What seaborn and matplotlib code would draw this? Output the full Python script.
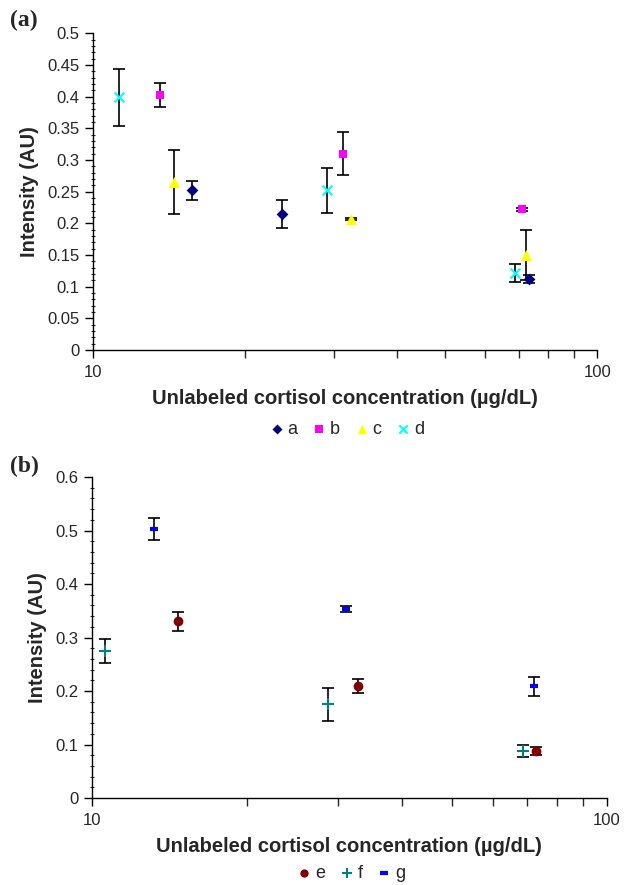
import numpy as np
import pandas as pd
import matplotlib
matplotlib.use("Agg")
import matplotlib.pyplot as plt
import seaborn as sns
from matplotlib.ticker import MultipleLocator, NullFormatter, FixedFormatter, FixedLocator

# painel (a)
a_x = [15.7, 23.7, 73.4]
a_y = [0.252, 0.214, 0.112]
a_err = [0.015, 0.022, 0.007]
b_x = [13.6, 31.3, 70.9]
b_y = [0.402, 0.310, 0.222]
b_err = [0.019, 0.034, 0.002]
c_x = [14.5, 32.5, 72.1]
c_y = [0.265, 0.207, 0.150]
c_err = [0.050, 0.002, 0.040]
d_x = [11.25, 29.1, 68.8]
d_y = [0.399, 0.252, 0.121]
d_err = [0.045, 0.035, 0.014]

# painel (b)
e_x = [14.7, 32.8, 73.0]
e_y = [0.330, 0.209, 0.088]
e_err = [0.018, 0.013, 0.0075]
f_x = [10.6, 28.7, 68.8]
f_y = [0.275, 0.175, 0.088]
f_err = [0.022, 0.031, 0.012]
g_x = [13.2, 31.2, 72.1]
g_y = [0.503, 0.353, 0.209]
g_err = [0.021, 0.006, 0.018]

sns.set_style("ticks")
plt.rcParams['font.family'] = ['Liberation Sans', 'DejaVu Sans']

fig = plt.figure(figsize=(6.24, 8.85), dpi=100)
ax1 = fig.add_axes([0.149, 0.6045, 0.808, 0.358])
ax2 = fig.add_axes([0.1474, 0.0983, 0.825, 0.3627])

series_a = [
    ("a", a_x, a_y, a_err, "D", "#000080", 6, 0),
    ("b", b_x, b_y, b_err, "s", "#ff00ff", 6, 0),
    ("c", c_x, c_y, c_err, "^", "#ffff00", 8, 0),
    ("d", d_x, d_y, d_err, "x", "#00ffff", 7, 1.5),
]
series_b = [
    ("e", e_x, e_y, e_err, "o", "#800000", 7, 0),
    ("f", f_x, f_y, f_err, "+", "#008080", 9, 1.5),
    ("g", g_x, g_y, g_err, "_", "#0000ff", 6, 3),
]


def desenha(ax, series, ymax, major, minor, leg_y):
    for nome, x, y, err, mk, cor, ms, lw in series:
        ax.errorbar(x, y, yerr=err, fmt="none", ecolor="black", elinewidth=1.2,
                    capsize=4, capthick=1.2, zorder=2)
        df = pd.DataFrame({"x": x, "y": y})
        if mk in ("x", "+", "_"):
            sns.scatterplot(data=df, x="x", y="y", ax=ax, marker=mk, color=cor,
                            s=ms ** 2, linewidth=lw, zorder=3, label=nome)
        else:
            sns.scatterplot(data=df, x="x", y="y", ax=ax, marker=mk, color=cor,
                            s=ms ** 2, edgecolor=cor, linewidth=0, zorder=3, label=nome)
    ax.set_xscale("log")
    ax.set_xlim(10, 100)
    ax.set_ylim(0, ymax)
    ax.yaxis.set_major_locator(MultipleLocator(major))
    ax.yaxis.set_minor_locator(MultipleLocator(minor))
    ax.yaxis.set_major_formatter(plt.FuncFormatter(lambda v, p: ("%g" % round(v, 3))))
    ax.xaxis.set_major_locator(FixedLocator([10, 100]))
    ax.xaxis.set_major_formatter(FixedFormatter(["10", "100"]))
    ax.xaxis.set_minor_locator(FixedLocator([20, 30, 40, 50, 60, 70, 80, 90]))
    ax.xaxis.set_minor_formatter(NullFormatter())
    ax.tick_params(axis="both", which="major", labelsize=12, length=6, width=1, color="black")
    ax.tick_params(axis="y", which="minor", length=3, width=0.8, direction="inout")
    ax.tick_params(axis="x", which="minor", length=6, width=1)
    ax.tick_params(axis="x", which="major", pad=5)
    for s in ("left", "bottom"):
        ax.spines[s].set_color("black")
        ax.spines[s].set_linewidth(1)
    sns.despine(ax=ax)
    ax.set_xlabel("Unlabeled cortisol concentration (µg/dL)", fontsize=14.5, fontweight="bold", labelpad=6)
    ax.set_ylabel("Intensity (AU)", fontsize=14.5, fontweight="bold", labelpad=6)
    ax.legend(loc="center", bbox_to_anchor=(0.5, leg_y), ncol=len(series), frameon=False,
              fontsize=13, handletextpad=0.0, columnspacing=0.6, handlelength=1.2,
              markerscale=0.85)


desenha(ax1, series_a, 0.5, 0.05, 0.01, -0.25)
desenha(ax2, series_b, 0.6, 0.1, 0.02, -0.235)

fig.text(0.016, 0.977, "(a)", fontsize=17, fontweight="bold", family="Liberation Serif", va="center")
fig.text(0.016, 0.4734, "(b)", fontsize=17, fontweight="bold", family="Liberation Serif", va="center")

fig.savefig("out.png", dpi=100)
